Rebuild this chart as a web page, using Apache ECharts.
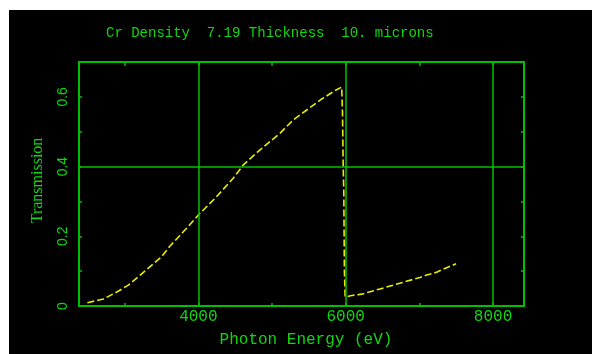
<!DOCTYPE html>
<html>
<head>
<meta charset="utf-8">
<script src="https://cdn.jsdelivr.net/npm/echarts@6/dist/echarts.min.js"></script>
<style>
  html, body { margin: 0; padding: 0; background: #ffffff; }
  #chart { position: absolute; left: 9px; top: 10px; width: 583px; height: 344px; background: #000000; }
</style>
</head>
<body>
<div id="chart"></div>
<script>
// Photon energy (eV) and transmission
const energy = [2494, 2711, 2893, 3050, 3186, 3345, 3503, 3616, 3796, 4023, 4227, 4475, 4611, 4838, 5110, 5289, 5675, 5856, 5946, 5950, 5956, 5966, 5974, 5982, 5992, 6082, 6217, 6466, 7009, 7099, 7235, 7371, 7497];
const transmission = [0.0095, 0.020, 0.040, 0.060, 0.084, 0.113, 0.142, 0.172, 0.213, 0.266, 0.309, 0.367, 0.405, 0.448, 0.496, 0.534, 0.594, 0.618, 0.628, 0.630, 0.557, 0.400, 0.328, 0.103, 0.026, 0.030, 0.034, 0.049, 0.082, 0.089, 0.097, 0.110, 0.121];

const xTickValues = [3000, 4000, 5000, 6000, 7000, 8000];
const xLabelValues = [4000, 6000, 8000];
const yLabelValues = [0, 0.2, 0.4, 0.6];
const xGridValues = [4000, 6000, 8000];
const yGridValues = [0.4];

const titleText = 'Cr Density  7.19 Thickness  10. microns';
const xName = 'Photon Energy (eV)';
const yName = 'Transmission';

const LINE = '#00c000';
const TEXT = '#10d810';
const CURVE = '#ecec00';

const chart = echarts.init(document.getElementById('chart'), null, { renderer: 'canvas' });

const axisLineStyle = { show: true, onZero: false, lineStyle: { color: LINE, width: 2 } };

const option = {
  backgroundColor: '#000000',
  animation: false,
  title: {
    text: titleText,
    left: 97,
    top: 16,
    padding: 0,
    textStyle: { color: TEXT, fontFamily: 'Liberation Mono', fontSize: 14, fontWeight: 'normal' }
  },
  grid: { left: 70, top: 52, right: 68, bottom: 48, containLabel: false },
  xAxis: [
    {
      type: 'value', position: 'bottom', min: 2380, max: 8420,
      axisLine: axisLineStyle,
      axisTick: { show: true, inside: true, length: 3, customValues: xTickValues, lineStyle: { color: LINE, width: 1.5 } },
      axisLabel: { show: true, customValues: xLabelValues, margin: 3, color: TEXT, fontFamily: 'Liberation Mono', fontSize: 16, formatter: v => String(v) },
      splitLine: { show: false },
      name: xName, nameLocation: 'middle', nameGap: 26,
      nameTextStyle: { color: TEXT, fontFamily: 'Liberation Mono', fontSize: 16, padding: [0, 0, 0, 9] }
    },
    {
      type: 'value', position: 'top', min: 2380, max: 8420,
      axisLine: axisLineStyle,
      axisTick: { show: true, inside: true, length: 4, customValues: xTickValues, lineStyle: { color: LINE, width: 1.5 } },
      axisLabel: { show: false },
      splitLine: { show: false }
    }
  ],
  yAxis: [
    {
      type: 'value', position: 'left', min: 0, max: 0.7, interval: 0.1,
      axisLine: axisLineStyle,
      axisTick: { show: true, inside: true, length: 3, lineStyle: { color: LINE, width: 1.5 } },
      axisLabel: { show: true, customValues: yLabelValues, rotate: 90, margin: 9, color: TEXT, fontFamily: 'Liberation Sans', fontSize: 14, formatter: v => String(v) },
      splitLine: { show: false },
      name: yName, nameLocation: 'middle', nameGap: 33, nameRotate: 90,
      nameTextStyle: { color: TEXT, fontFamily: 'Liberation Serif', fontSize: 16, padding: [0, 0, 0, 7] }
    },
    {
      type: 'value', position: 'right', min: 0, max: 0.7, interval: 0.1,
      axisLine: axisLineStyle,
      axisTick: { show: true, inside: true, length: 3, lineStyle: { color: LINE, width: 1.5 } },
      axisLabel: { show: false },
      splitLine: { show: false }
    }
  ],
  series: [
    {
      type: 'line', name: 'grid', data: [], z: 1, silent: true,
      markLine: {
        silent: true, symbol: 'none', animation: false,
        label: { show: false },
        lineStyle: { color: LINE, width: 1.5, type: 'solid' },
        emphasis: { disabled: true },
        data: xGridValues.map(v => ({ xAxis: v })).concat(yGridValues.map(v => ({ yAxis: v })))
      }
    },
    {
      type: 'line', name: 'Transmission', z: 3,
      data: energy.map((e, i) => [e, transmission[i]]),
      showSymbol: false, symbol: 'none', smooth: false,
      lineStyle: { color: CURVE, width: 1.6, type: [7, 3] }
    }
  ]
};

chart.setOption(option);
</script>
</body>
</html>
